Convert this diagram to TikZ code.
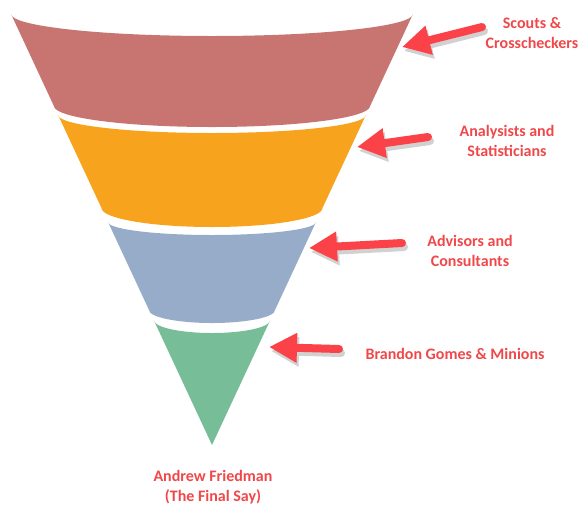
\documentclass[tikz,border=0pt]{standalone}
\usepackage{fontspec}
\setmainfont{Carlito}
\usetikzlibrary{arrows.meta}

\definecolor{bandred}{RGB}{200,116,113}
\definecolor{bandorange}{RGB}{248,163,29}
\definecolor{bandblue}{RGB}{151,172,200}
\definecolor{bandgreen}{RGB}{119,190,152}
\definecolor{pointerred}{RGB}{250,66,72}
\definecolor{labelred}{RGB}{240,72,74}

\tikzset{
  pointer/.style={draw=pointerred, line width=6pt, line cap=round,
    -{Triangle[length=21pt,width=21pt]}},
  pointershadow/.style={pointer, draw=black!18},
  funnellabel/.style={text=labelred, align=center, inner sep=0.75pt,
    font=\bfseries\fontsize{12}{15}\selectfont}
}

\begin{document}
\begin{tikzpicture}[x=0.75pt,y=0.75pt,yscale=-1,xscale=1]
\useasboundingbox (0,0) rectangle (588,526);

%Shape: Funnel band [Scouts]
\fill[bandred] (11,14) arc[start angle=180,end angle=0,x radius=201,y radius=22]
  -- (370.1,106) arc[start angle=0,end angle=180,x radius=158.1,y radius=21] -- cycle;
%Shape: Funnel band [Analysts]
\fill[bandorange] (58.1,115) arc[start angle=180,end angle=0,x radius=153.9,y radius=18]
  -- (322.5,208) arc[start angle=0,end angle=180,x radius=110.5,y radius=19] -- cycle;
%Shape: Funnel band [Advisors]
\fill[bandblue] (108,222) arc[start angle=180,end angle=0,x radius=104,y radius=13]
  -- (275,310) arc[start angle=0,end angle=180,x radius=63,y radius=13] -- cycle;
%Shape: Funnel tip [Minions]
\fill[bandgreen] (153.7,320) arc[start angle=180,end angle=0,x radius=58.3,y radius=13]
  -- (212,445) -- cycle;

% Text Node
\node[funnellabel] (scouts) at (532,33) {Scouts \&\\Crosscheckers};
\node[funnellabel] (analysts) at (507,141) {Analysists and\\Statisticians};
\node[funnellabel] (advisors) at (470,251) {Advisors and\\Consultants};
\node[funnellabel] (minions) at (455,354) {Brandon Gomes \& Minions};
\node[funnellabel] (friedman) at (213,487) {Andrew Friedman\\(The Final Say)};

%Arrow ends
\coordinate (tailA) at (482,27);  \coordinate (tipA) at (402,47);
\coordinate (tailB) at (428,137); \coordinate (tipB) at (357,147);
\coordinate (tailC) at (402,243); \coordinate (tipC) at (309,248);
\coordinate (tailD) at (339,349); \coordinate (tipD) at (269,347);

%Straight Lines [arrows with shadow]
\foreach \p in {A,B,C,D}{
  \draw[pointershadow] ([shift={(2,4)}]tail\p) -- ([shift={(2,4)}]tip\p);
  \draw[pointer] (tail\p) -- (tip\p);
}

\end{tikzpicture}
\end{document}
